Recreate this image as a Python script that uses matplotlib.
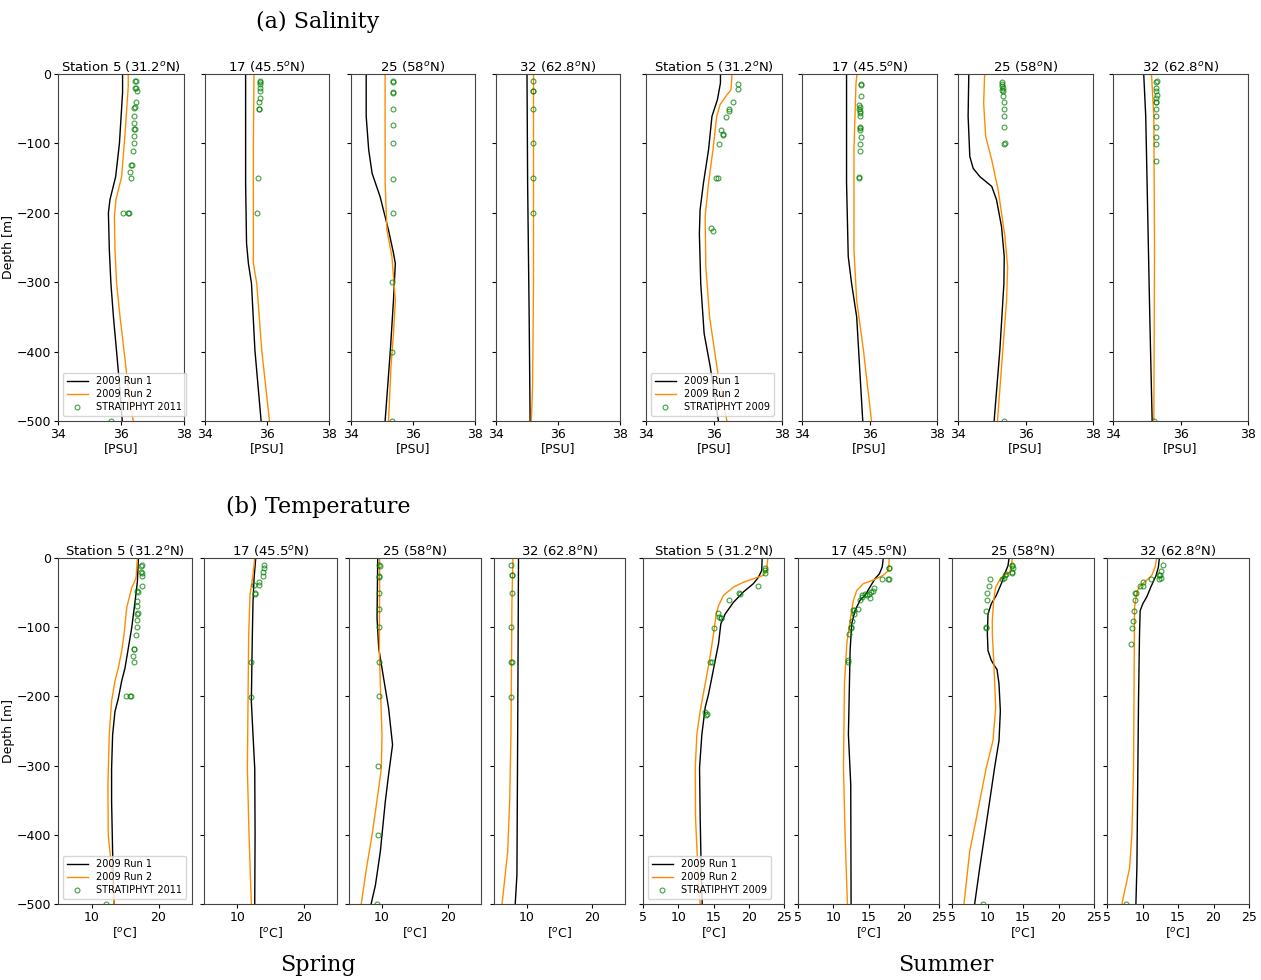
import matplotlib.pyplot as plt

# station titles (same four stations in spring and summer)
stations = ["Station 5 (31.2$^o$N)", "17 (45.5$^o$N)", "25 (58$^o$N)", "32 (62.8$^o$N)"]

# ---- salinity, spring: (depth, PSU) per station ----
sal_spr_run1 = [
    [(0, 36.05), (-27, 36.05), (-100, 35.95), (-148, 35.83), (-181, 35.65), (-200, 35.6), (-254, 35.63),
     (-302, 35.68), (-350, 35.76), (-400, 35.86), (-446, 35.95), (-500, 36.04)],
    [(0, 35.31), (-157, 35.31), (-244, 35.34), (-273, 35.40), (-302, 35.5), (-398, 35.61), (-500, 35.81)],
    [(0, 34.49), (-61, 34.49), (-109, 34.57), (-143, 34.68), (-177, 34.94), (-225, 35.21), (-258, 35.37),
     (-273, 35.43), (-326, 35.37), (-398, 35.27), (-500, 35.1)],
    [(0, 35.0), (-157, 35.02), (-350, 35.07), (-500, 35.10)],
]
sal_spr_run2 = [
    [(0, 36.23), (-18, 36.23), (-85, 36.13), (-148, 36.02), (-181, 35.84), (-205, 35.79), (-254, 35.81),
     (-302, 35.86), (-350, 35.97), (-412, 36.13), (-470, 36.27), (-500, 36.39)],
    [(0, 35.58), (-109, 35.56), (-273, 35.56), (-302, 35.67), (-398, 35.83), (-500, 36.08)],
    [(0, 35.1), (-157, 35.1), (-225, 35.16), (-263, 35.32), (-326, 35.43), (-374, 35.37), (-422, 35.29),
     (-500, 35.21)],
    [(0, 35.21), (-300, 35.21), (-450, 35.18), (-500, 35.14)],
]
sal_spr_obs = [
    [(-10, 36.48), (-10, 36.45), (-20, 36.48), (-20, 36.45), (-25, 36.5), (-40, 36.48), (-47, 36.43),
     (-49, 36.42), (-61, 36.41), (-71, 36.41), (-79, 36.43), (-79, 36.40), (-89, 36.41), (-100, 36.42),
     (-111, 36.38), (-131, 36.35), (-131, 36.33), (-141, 36.30), (-150, 36.33), (-200, 36.07),
     (-200, 36.21), (-200, 36.26), (-500, 35.68)],
    [(-10, 35.77), (-12, 35.79), (-15, 35.78), (-20, 35.76), (-25, 35.79), (-35, 35.76), (-40, 35.74),
     (-50, 35.75), (-50, 35.73), (-150, 35.70), (-201, 35.69)],
    [(-10, 35.34), (-11, 35.34), (-26, 35.34), (-27, 35.34), (-50, 35.34), (-74, 35.34), (-100, 35.34),
     (-151, 35.34), (-201, 35.34), (-300, 35.33), (-401, 35.32), (-500, 35.32)],
    [(-10, 35.19), (-24, 35.19), (-25, 35.2), (-50, 35.19), (-100, 35.19), (-150, 35.2), (-201, 35.19)],
]

# ---- salinity, summer ----
sal_sum_run1 = [
    [(0, 36.19), (-13, 36.19), (-37, 36.1), (-61, 35.94), (-109, 35.84), (-157, 35.69), (-196, 35.59),
     (-230, 35.57), (-302, 35.61), (-374, 35.71), (-422, 35.89), (-500, 36.13)],
    [(0, 35.32), (-157, 35.32), (-263, 35.37), (-302, 35.47), (-350, 35.62), (-500, 35.8)],
    [(0, 34.32), (-61, 34.3), (-119, 34.35), (-136, 34.45), (-148, 34.65), (-162, 35.0), (-181, 35.14),
     (-220, 35.29), (-263, 35.37), (-302, 35.36), (-398, 35.24), (-500, 35.07)],
    [(0, 34.91), (-61, 34.97), (-157, 35.01), (-350, 35.09), (-500, 35.16)],
]
sal_sum_run2 = [
    [(0, 36.53), (-23, 36.5), (-30, 36.38), (-44, 36.18), (-61, 36.08), (-109, 35.97), (-157, 35.84),
     (-205, 35.74), (-278, 35.76), (-350, 35.87), (-427, 36.1), (-500, 36.38)],
    [(0, 35.63), (-13, 35.6), (-109, 35.54), (-254, 35.54), (-326, 35.62), (-398, 35.82), (-500, 36.06)],
    [(0, 34.79), (-42, 34.76), (-90, 34.82), (-124, 35.0), (-167, 35.19), (-234, 35.39), (-278, 35.47),
     (-326, 35.44), (-422, 35.29), (-500, 35.17)],
    [(0, 35.14), (-61, 35.21), (-254, 35.23), (-500, 35.21)],
]
sal_sum_obs = [
    [(-15, 36.72), (-22, 36.72), (-41, 36.56), (-51, 36.44), (-53, 36.44), (-62, 36.36), (-81, 36.2),
     (-86, 36.26), (-88, 36.26), (-101, 36.14), (-150, 36.06), (-150, 36.11), (-222, 35.92), (-226, 35.97)],
    [(-15, 35.76), (-16, 35.75), (-31, 35.76), (-44, 35.70), (-48, 35.71), (-51, 35.70), (-53, 35.72),
     (-56, 35.71), (-61, 35.73), (-76, 35.71), (-78, 35.72), (-81, 35.73), (-91, 35.74), (-101, 35.72),
     (-111, 35.71), (-148, 35.68), (-150, 35.69)],
    [(-11, 35.3), (-15, 35.3), (-18, 35.31), (-20, 35.32), (-23, 35.31), (-25, 35.32), (-31, 35.33),
     (-41, 35.35), (-51, 35.35), (-61, 35.35), (-76, 35.36), (-100, 35.38), (-101, 35.37), (-500, 35.36)],
    [(-10, 35.29), (-11, 35.28), (-20, 35.28), (-25, 35.28), (-30, 35.29), (-35, 35.27), (-40, 35.27),
     (-41, 35.27), (-51, 35.27), (-61, 35.27), (-76, 35.26), (-91, 35.26), (-101, 35.26), (-126, 35.26),
     (-500, 35.2)],
]

# ---- temperature, spring: (depth, degC) ----
tmp_spr_run1 = [
    [(0, 17.0), (-34, 16.85), (-63, 16.5), (-101, 16.0), (-130, 15.5), (-159, 15.0), (-178, 14.5),
     (-203, 14.0), (-222, 13.5), (-256, 13.15), (-304, 13.0), (-352, 13.0), (-424, 13.15), (-500, 13.35)],
    [(0, 12.78), (-29, 12.53), (-63, 12.37), (-111, 12.27), (-207, 12.12), (-256, 12.37), (-304, 12.63),
     (-400, 12.68), (-500, 12.63)],
    [(0, 9.35), (-87, 9.25), (-130, 9.5), (-174, 10.25), (-217, 11.0), (-270, 11.6), (-313, 11.0),
     (-352, 10.5), (-424, 9.75), (-473, 9.0), (-500, 8.35)],
    [(0, 8.74), (-207, 8.64), (-458, 8.5), (-500, 8.24)],
]
tmp_spr_run2 = [
    [(0, 16.85), (-29, 16.65), (-43, 16.0), (-72, 15.25), (-111, 14.85), (-135, 14.5), (-159, 14.0),
     (-178, 13.5), (-207, 13.0), (-256, 12.65), (-328, 12.45), (-400, 12.5), (-448, 13.0), (-500, 13.35)],
    [(0, 12.63), (-24, 12.37), (-53, 11.92), (-111, 11.72), (-207, 11.62), (-304, 11.52), (-400, 11.77),
     (-500, 12.12)],
    [(0, 9.65), (-135, 9.6), (-183, 9.75), (-256, 10.0), (-304, 9.9), (-333, 9.5), (-400, 8.5),
     (-448, 7.65), (-500, 6.85)],
    [(0, 7.89), (-63, 7.74), (-256, 7.59), (-352, 7.39), (-424, 7.09), (-500, 6.23)],
]
tmp_spr_obs = [
    [(-10, 17.5), (-11, 17.4), (-20, 17.4), (-21, 17.5), (-26, 17.6), (-40, 17.5), (-47, 16.85),
     (-49, 17.0), (-62, 16.85), (-70, 16.85), (-80, 16.9), (-81, 16.8), (-89, 16.75), (-99, 16.75),
     (-111, 16.6), (-131, 16.4), (-132, 16.35), (-141, 16.25), (-150, 16.4), (-200, 15.15),
     (-200, 15.75), (-200, 15.9), (-500, 12.15)],
    [(-10, 14.04), (-15, 14.0), (-20, 13.9), (-26, 13.8), (-34, 13.3), (-39, 13.2), (-39, 12.5),
     (-51, 12.6), (-52, 12.65), (-150, 12.1), (-201, 12.0)],
    [(-10, 9.6), (-11, 9.65), (-26, 9.6), (-27, 9.55), (-50, 9.55), (-73, 9.6), (-100, 9.6), (-150, 9.5),
     (-200, 9.55), (-300, 9.4), (-401, 9.35), (-500, 9.25)],
    [(-10, 7.64), (-24, 7.7), (-25, 7.68), (-50, 7.69), (-100, 7.67), (-150, 7.66), (-151, 7.7),
     (-201, 7.62)],
]

# ---- temperature, summer ----
tmp_sum_run1 = [
    [(0, 21.9), (-18, 21.84), (-28, 21.37), (-37, 20.66), (-49, 19.25), (-64, 17.83), (-81, 16.65),
     (-95, 16.04), (-124, 15.71), (-148, 15.24), (-173, 14.76), (-197, 14.29), (-216, 13.82),
     (-255, 13.35), (-303, 13.02), (-376, 13.11), (-448, 13.25), (-500, 13.4)],
    [(0, 17.09), (-13, 16.95), (-23, 16.53), (-30, 15.92), (-42, 15.21), (-54, 14.51), (-61, 13.8),
     (-76, 13.09), (-95, 12.62), (-134, 12.39), (-255, 12.15), (-327, 12.48), (-500, 12.53)],
    [(0, 13.03), (-11, 12.89), (-23, 12.42), (-37, 11.95), (-54, 11.24), (-66, 10.54), (-81, 10.07),
     (-110, 9.98), (-134, 10.07), (-148, 10.54), (-156, 11.0), (-161, 11.34), (-182, 11.62),
     (-221, 11.81), (-264, 11.62), (-303, 11.0), (-351, 10.31), (-400, 9.6), (-448, 8.9), (-500, 8.19)],
    [(0, 12.38), (-13, 12.24), (-25, 11.92), (-42, 11.17), (-56, 10.61), (-66, 10.05), (-76, 9.67),
     (-110, 9.58), (-206, 9.44), (-351, 9.3), (-448, 9.21), (-500, 9.07)],
]
tmp_sum_run2 = [
    [(0, 22.69), (-18, 22.55), (-25, 22.08), (-30, 20.66), (-35, 19.25), (-42, 17.83), (-54, 16.42),
     (-69, 15.71), (-81, 15.38), (-110, 15.0), (-148, 14.43), (-182, 13.82), (-221, 13.11),
     (-255, 12.64), (-303, 12.41), (-376, 12.45), (-448, 12.78), (-500, 13.11)],
    [(0, 17.94), (-18, 17.85), (-25, 17.09), (-32, 15.68), (-37, 14.27), (-47, 13.33), (-61, 12.86),
     (-90, 12.39), (-124, 11.92), (-182, 11.59), (-303, 11.45), (-400, 11.68), (-500, 12.01)],
    [(0, 13.5), (-11, 13.36), (-20, 13.12), (-25, 12.42), (-32, 11.71), (-42, 11.15), (-61, 10.87),
     (-90, 10.68), (-110, 10.68), (-158, 10.92), (-216, 11.15), (-264, 10.77), (-303, 9.83),
     (-376, 8.43), (-424, 7.49), (-500, 6.69)],
    [(0, 12.01), (-13, 11.78), (-25, 11.31), (-32, 10.61), (-40, 9.67), (-49, 9.21), (-71, 8.88),
     (-158, 8.83), (-303, 8.74), (-400, 8.5), (-448, 8.18), (-500, 7.1)],
]
tmp_sum_obs = [
    [(-14, 22.26), (-18, 22.26), (-22, 22.36), (-41, 21.27), (-50, 18.68), (-52, 18.78), (-61, 17.22),
     (-80, 15.61), (-85, 15.85), (-86, 16.13), (-87, 16.0), (-101, 15.09), (-150, 14.53), (-150, 14.76),
     (-222, 13.82), (-226, 14.06), (-227, 13.95)],
    [(-14, 17.85), (-15, 17.95), (-30, 17.8), (-31, 17.95), (-30, 16.95), (-44, 15.82), (-48, 15.68),
     (-49, 15.31), (-52, 15.12), (-54, 14.84), (-52, 14.51), (-54, 14.13), (-57, 14.04), (-58, 15.21),
     (-61, 13.8), (-74, 13.47), (-75, 12.86), (-75, 13.0), (-81, 12.95), (-91, 12.62), (-100, 12.53),
     (-101, 12.5), (-110, 12.29), (-148, 12.06), (-151, 12.1)],
    [(-10, 13.45), (-12, 13.5), (-15, 13.59), (-20, 13.5), (-21, 13.4), (-23, 12.65), (-24, 12.5),
     (-29, 12.28), (-31, 12.09), (-30, 10.4), (-41, 10.16), (-50, 9.93), (-60, 9.93), (-76, 9.84),
     (-100, 9.79), (-101, 9.82), (-500, 9.37)],
    [(-10, 12.85), (-19, 12.62), (-24, 12.48), (-25, 12.38), (-29, 12.55), (-31, 12.38), (-30, 11.21),
     (-35, 10.05), (-40, 9.58), (-41, 10.14), (-50, 8.97), (-51, 9.05), (-60, 8.88), (-76, 8.74),
     (-91, 8.6), (-101, 8.55), (-125, 8.36), (-500, 7.71)],
]

W, H = 1261, 980

# axes boxes in pixels: left, right (per column) and top, bottom (per row)
top_cols = [(58, 184), (205, 329), (351, 475), (496, 620), (646, 782), (802, 937), (958, 1093), (1113, 1248)]
bot_cols = [(58, 192), (204, 337), (349, 481), (494, 625), (643, 784), (798, 939), (952, 1094), (1107, 1249)]
top_rows = (74, 421)
bot_rows = (558, 904)

fig = plt.figure(figsize=(W / 100, H / 100), dpi=100)


def add_ax(cols, rows):
    (x0, x1), (y0, y1) = cols, rows
    return fig.add_axes([x0 / W, 1 - y1 / H, (x1 - x0) / W, (y1 - y0) / H])


def draw_panel(ax, run1, run2, obs, title):
    ax.plot([v for d, v in run1], [d for d, v in run1], color="black", lw=1.0, label="2009 Run 1")
    ax.plot([v for d, v in run2], [d for d, v in run2], color="darkorange", lw=1.0, label="2009 Run 2")
    ax.plot([v for d, v in obs], [d for d, v in obs], "o", mfc="none", mec="green", ms=3.5, mew=0.8,
            alpha=0.75, label="STRATIPHYT")
    ax.set_title(title, fontsize=9.5, pad=2)
    ax.set_ylim(-500, 0)
    ax.set_yticks([0, -100, -200, -300, -400, -500])
    ax.tick_params(labelsize=9, length=3, pad=2)
    for sp in ax.spines.values():
        sp.set_color("#444444")


groups = [
    # (cols, rows, run1, run2, obs, xlim, xticks, xlabel, cruise year)
    (top_cols[:4], top_rows, sal_spr_run1, sal_spr_run2, sal_spr_obs, (34, 38), [34, 36, 38], "[PSU]", "2011"),
    (top_cols[4:], top_rows, sal_sum_run1, sal_sum_run2, sal_sum_obs, (34, 38), [34, 36, 38], "[PSU]", "2009"),
    (bot_cols[:4], bot_rows, tmp_spr_run1, tmp_spr_run2, tmp_spr_obs, (5, 25), [10, 20], "[$^o$C]", "2011"),
    (bot_cols[4:], bot_rows, tmp_sum_run1, tmp_sum_run2, tmp_sum_obs, (5, 25), [5, 10, 15, 20, 25], "[$^o$C]", "2009"),
]

for gi, (cols, rows, r1, r2, ob, xlim, xticks, xlabel, year) in enumerate(groups):
    for i in range(4):
        ax = add_ax(cols[i], rows)
        draw_panel(ax, r1[i], r2[i], ob[i], stations[i])
        ax.set_xlim(*xlim)
        ax.set_xticks(xticks)
        ax.set_xlabel(xlabel, fontsize=9, labelpad=1)
        if i == 0:
            ax.legend(["2009 Run 1", "2009 Run 2", "STRATIPHYT " + year], loc="lower left",
                      fontsize=7, handlelength=2.2, borderpad=0.4, labelspacing=0.3)
            if gi in (0, 2):
                ax.set_ylabel("Depth [m]", fontsize=9, labelpad=1)
            else:
                ax.set_yticklabels([])
        else:
            ax.set_yticklabels([])

serif = dict(family="DejaVu Serif", fontsize=16, ha="center", va="center")
fig.text(318 / W, 1 - 22 / H, "(a) Salinity", **serif)
fig.text(318 / W, 1 - 507 / H, "(b) Temperature", **serif)
fig.text(318 / W, 1 - 965 / H, "Spring", **serif)
fig.text(946 / W, 1 - 965 / H, "Summer", **serif)

fig.savefig("out.png", dpi=100)
